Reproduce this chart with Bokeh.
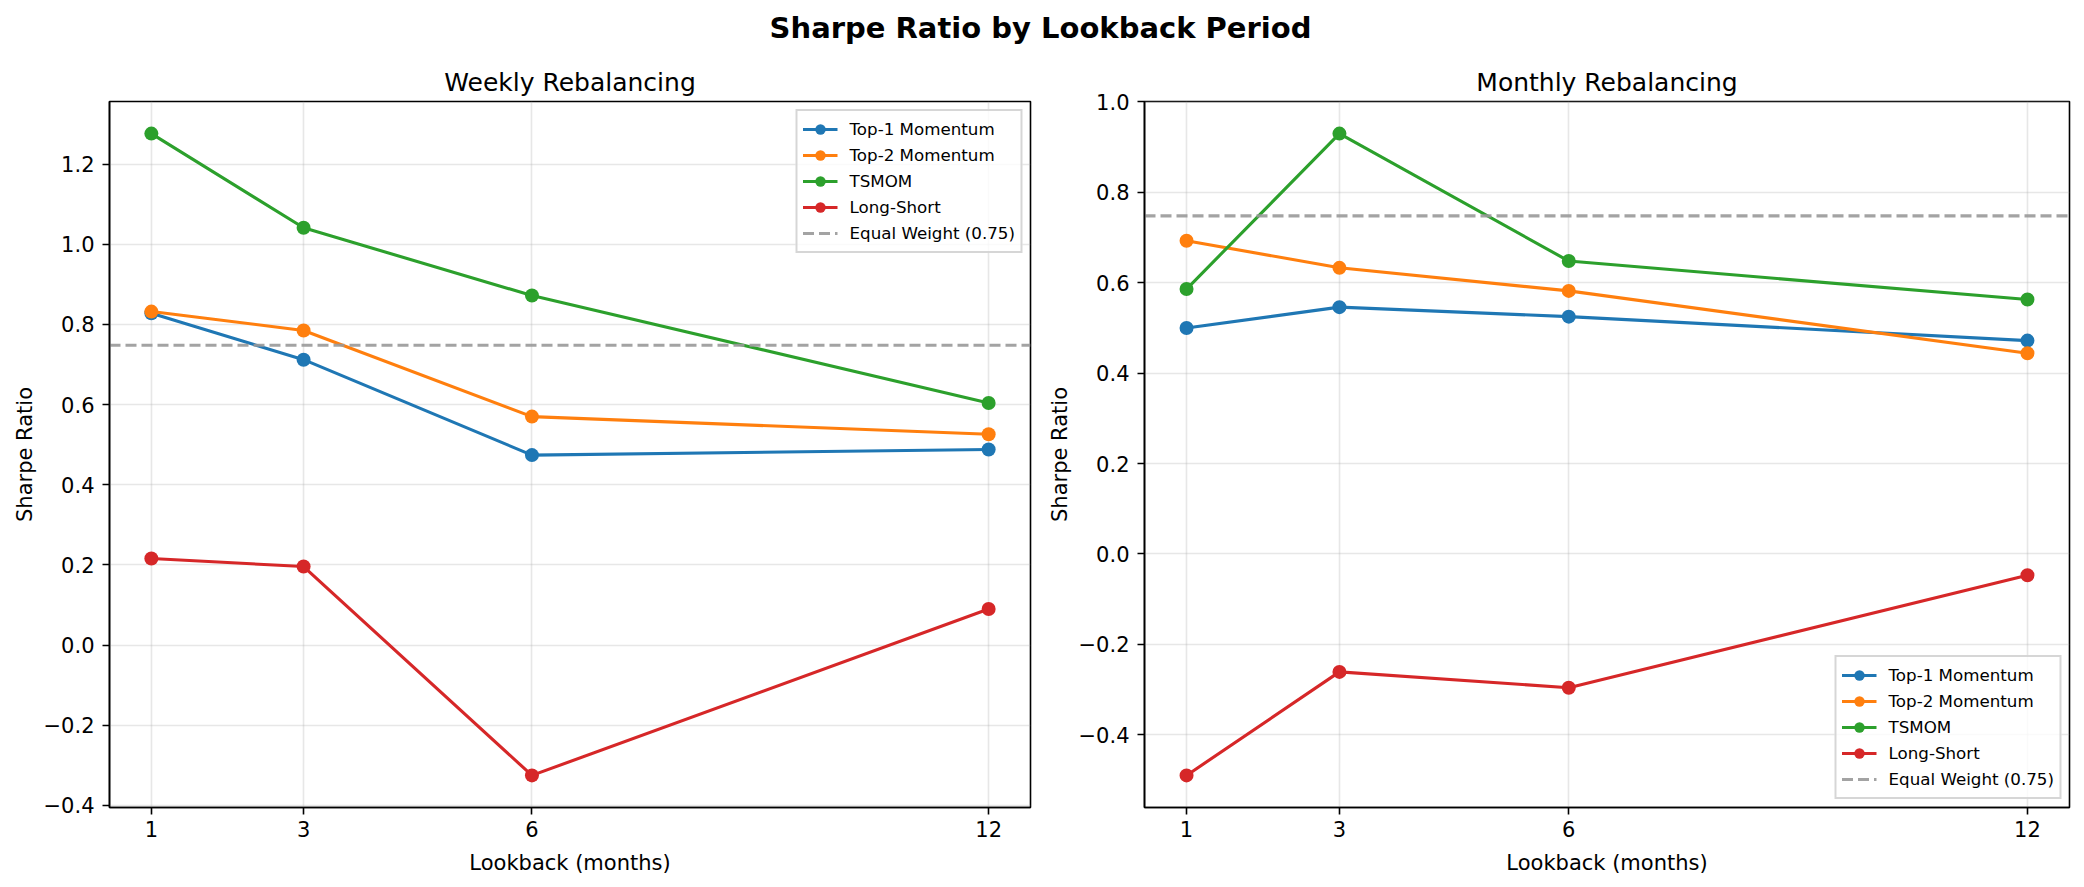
from bokeh.plotting import figure
from bokeh.models import (Range1d, FixedTicker, CustomJSTickFormatter,
                          Legend, LegendItem, Label)
from bokeh.layouts import column, row
from bokeh.embed import file_html
from bokeh.resources import INLINE

# ---------------- data ----------------
lookback = [1, 3, 6, 12]
series_names = ["Top-1 Momentum", "Top-2 Momentum", "TSMOM", "Long-Short"]
series_colors = ["#1f77b4", "#ff7f0e", "#2ca02c", "#d62728"]

weekly_top1 = [0.828, 0.712, 0.474, 0.488]
weekly_top2 = [0.832, 0.785, 0.570, 0.526]
weekly_tsmom = [1.276, 1.041, 0.872, 0.604]
weekly_ls = [0.216, 0.196, -0.325, 0.090]

monthly_top1 = [0.500, 0.546, 0.525, 0.472]
monthly_top2 = [0.693, 0.633, 0.582, 0.444]
monthly_tsmom = [0.586, 0.930, 0.648, 0.563]
monthly_ls = [-0.490, -0.261, -0.296, -0.047]

equal_weight = 0.748
equal_weight_label = "Equal Weight (0.75)"

weekly_yticks = [-0.4, -0.2, 0.0, 0.2, 0.4, 0.6, 0.8, 1.0, 1.2]
monthly_yticks = [-0.4, -0.2, 0.0, 0.2, 0.4, 0.6, 0.8, 1.0]

FONT = "DejaVu Sans"

y_fmt = CustomJSTickFormatter(code="""
    const v = Math.abs(tick) < 1e-9 ? 0 : tick;
    return v.toFixed(1).replace('-', '\u2212');
""")


def auto_range(vals, margin=0.05):
    lo, hi = min(vals), max(vals)
    span = hi - lo
    return lo - margin * span, hi + margin * span


def make_panel(title, series, yticks, legend_loc, mb_left, mb_right, fw):
    all_y = [v for s in series for v in s] + [equal_weight]
    ylo, yhi = auto_range(all_y)
    xlo, xhi = auto_range(lookback)
    p = figure(frame_width=fw, frame_height=706,
               min_border_left=mb_left, min_border_right=mb_right,
               min_border_top=53, min_border_bottom=70,
               x_range=Range1d(xlo, xhi), y_range=Range1d(ylo, yhi),
               output_backend="svg", toolbar_location=None, title=title)
    p.title.text_font = FONT
    p.title.text_font_size = "25px"
    p.title.text_font_style = "normal"
    p.title.text_color = "black"
    p.title.align = "center"
    p.title.standoff = 9

    p.background_fill_color = "white"
    p.border_fill_color = "white"
    p.outline_line_color = "black"
    p.outline_line_width = 1.6
    p.outline_line_alpha = 1.0

    p.xaxis.ticker = FixedTicker(ticks=lookback)
    p.yaxis.ticker = FixedTicker(ticks=yticks)
    p.yaxis.formatter = y_fmt
    for ax in (p.xaxis, p.yaxis):
        ax.axis_line_color = "black"
        ax.axis_line_width = 1.6
        ax.major_tick_line_color = "black"
        ax.major_tick_line_width = 1.6
        ax.major_tick_out = 7
        ax.major_tick_in = 0
        ax.minor_tick_out = 0
        ax.minor_tick_in = 0
        ax.major_label_text_font = FONT
        ax.major_label_text_font_size = "21px"
        ax.major_label_text_color = "black"
        ax.axis_label_text_font = FONT
        ax.axis_label_text_font_size = "21px"
        ax.axis_label_text_font_style = "normal"
        ax.axis_label_text_color = "black"
    p.xaxis.axis_label = "Lookback (months)"
    p.yaxis.axis_label = "Sharpe Ratio"
    p.xaxis.major_label_standoff = 6
    p.yaxis.major_label_standoff = 8
    p.xaxis.axis_label_standoff = 11
    p.yaxis.axis_label_standoff = 4

    p.grid.grid_line_color = "#b0b0b0"
    p.grid.grid_line_alpha = 0.3
    p.grid.grid_line_width = 1.6

    items = []
    for name, color, ys in zip(series_names, series_colors, series):
        r1 = p.line(lookback, ys, line_color=color, line_width=3.1)
        r2 = p.scatter(lookback, ys, marker="circle", size=14,
                       fill_color=color, line_color=color, line_width=0)
        items.append(LegendItem(label=name, renderers=[r1, r2]))

    # horizontal reference line across the full x range
    ew_x = [p.x_range.start, p.x_range.end]
    ew_y = [equal_weight] * len(ew_x)
    r_ew = p.line(ew_x, ew_y, line_color="#999999", line_alpha=0.9,
                  line_width=3.1, line_dash="11 5")
    items.append(LegendItem(label=equal_weight_label, renderers=[r_ew]))

    leg = Legend(items=items, location=legend_loc)
    leg.label_text_font = FONT
    leg.label_text_font_size = "16.7px"
    leg.label_text_color = "black"
    leg.glyph_width = 35
    leg.glyph_height = 26
    leg.label_height = 20
    leg.label_standoff = 12
    leg.spacing = 0
    leg.padding = 5
    leg.margin = 8
    leg.border_line_color = "#cccccc"
    leg.border_line_width = 2
    leg.border_line_alpha = 0.8
    leg.background_fill_color = "white"
    leg.background_fill_alpha = 0.8
    p.add_layout(leg)
    return p


p1 = make_panel("Weekly Rebalancing",
                [weekly_top1, weekly_top2, weekly_tsmom, weekly_ls],
                weekly_yticks, "top_right", 109, 10, 921)
p2 = make_panel("Monthly Rebalancing",
                [monthly_top1, monthly_top2, monthly_tsmom, monthly_ls],
                monthly_yticks, "bottom_right", 104, 11, 925)

t = figure(width=2080, height=48, x_range=Range1d(0, 1), y_range=Range1d(0, 1),
           x_axis_type=None, y_axis_type=None, min_border=0,
           output_backend="svg", toolbar_location=None)
t.grid.visible = False
t.outline_line_color = None
t.add_layout(Label(x=0.5, y=0.4375, text="Sharpe Ratio by Lookback Period",
                   text_align="center", text_baseline="middle",
                   text_font=FONT, text_font_size="29px",
                   text_font_style="bold", text_color="black"))

layout = column(t, row(p1, p2))
open("out.html", "w").write(file_html(layout, INLINE))
